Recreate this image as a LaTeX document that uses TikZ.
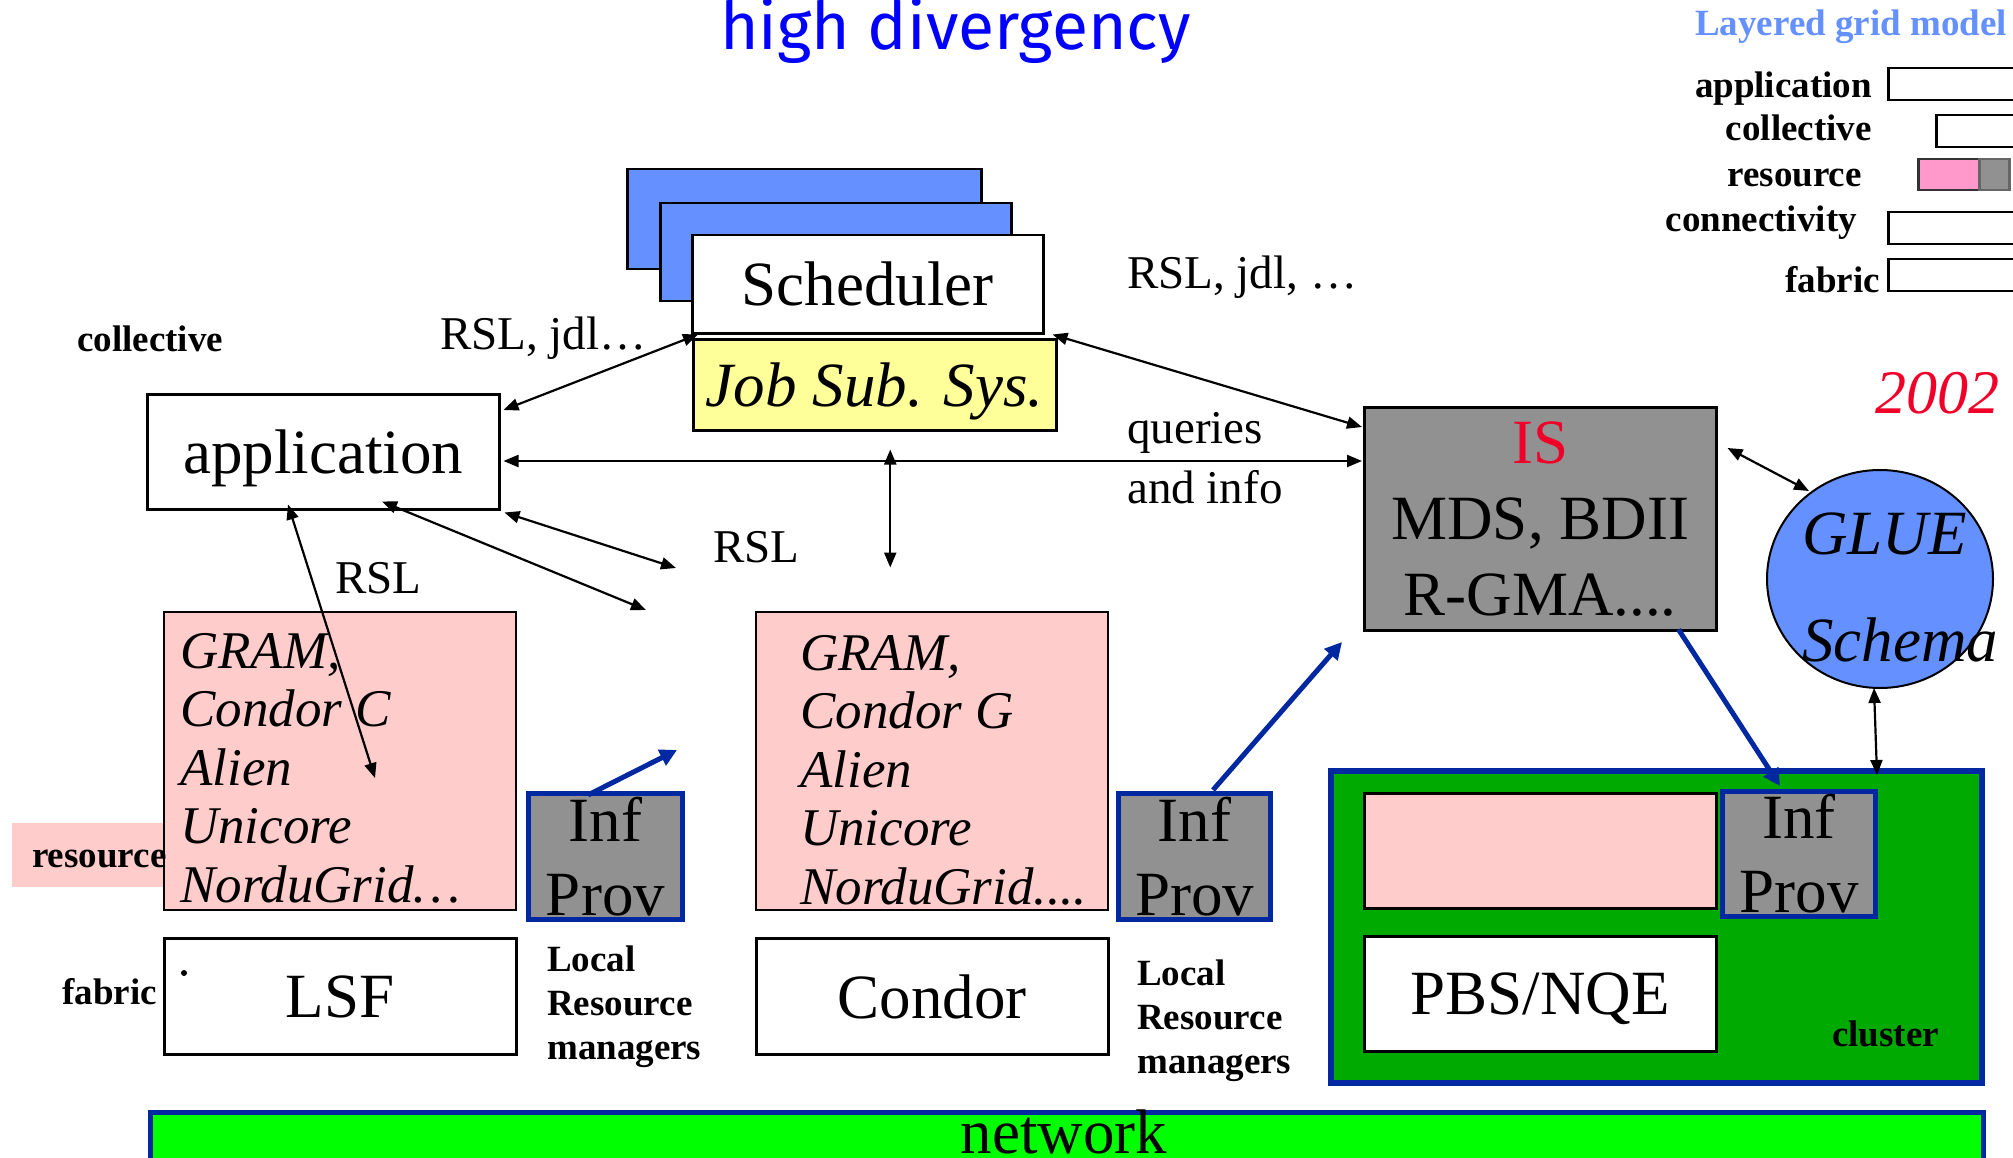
\documentclass[tikz,border=0pt]{standalone}
\usepackage{fontspec}
\setmainfont{Liberation Serif}
\newfontfamily\titlefont{Fira Sans}
\usetikzlibrary{arrows.meta,shapes.geometric,calc}
\definecolor{schedblue}{RGB}{100,145,255}
\definecolor{legblue}{RGB}{100,145,255}
\definecolor{pinkbox}{RGB}{255,204,204}
\definecolor{pinkleg}{RGB}{255,153,204}
\definecolor{isgray}{RGB}{145,145,145}
\definecolor{jobyellow}{RGB}{255,255,153}
\definecolor{darkblue}{RGB}{0,40,160}
\definecolor{clustergreen}{RGB}{0,170,0}
\definecolor{netgreen}{RGB}{0,255,0}
\definecolor{isred}{RGB}{240,0,40}
\definecolor{titleblue}{RGB}{0,0,255}
\newcommand{\myfs}[2]{\fontsize{#1}{#2}\selectfont}
\begin{document}
\begin{tikzpicture}[x=1pt,y=-1pt,
  box/.style={draw=black, line width=2.5pt, inner sep=0pt, anchor=north west},
  infbox/.style={draw=darkblue, fill=isgray, line width=5pt, inner sep=0pt, anchor=north west,
    align=center, font=\myfs{63}{74}},
  big/.style={font=\myfs{63}{70}},
  lbl/.style={anchor=base west, inner sep=0pt, font=\myfs{47}{60}},
  bold/.style={inner sep=0pt, font=\bfseries\myfs{37}{44}},
  listtext/.style={anchor=north west, inner sep=0pt, align=left, font=\itshape\myfs{53}{58.5}},
  arr/.style={line width=2.2pt, {Triangle[length=15pt,width=12pt]}-{Triangle[length=15pt,width=12pt]}},
  bluearr/.style={line width=5pt, draw=darkblue, -{Triangle[length=17pt,width=17pt]}}
]
\useasboundingbox (0,0) rectangle (2013,1158);

% title
\node[anchor=base west, inner sep=0pt, font=\titlefont\myfs{66}{70}, text=titleblue] (title) at (720,50) {high divergency};

% legend
\node[bold, anchor=base west, text=legblue] (legtitle) at (1695,36) {Layered grid model};
\node[bold, anchor=base east] (lapp) at (1872,98) {application};
\node[bold, anchor=base east] (lcol) at (1872,141) {collective};
\node[bold, anchor=base east] (lres) at (1862,187) {resource};
\node[bold, anchor=base east] (lcon) at (1857,232) {connectivity};
\node[bold, anchor=base east] (lfab) at (1880,293) {fabric};
\node[box, fill=white, minimum width=140pt, minimum height=32pt] (lappbox) at (1887,67) {};
\node[box, fill=white, minimum width=100pt, minimum height=32pt] (lcolbox) at (1935,114) {};
\node[box, draw=black!80, fill=pinkleg, minimum width=61pt, minimum height=31pt] (lrespink) at (1917,158) {};
\node[box, draw=black!60, fill=isgray, minimum width=30pt, minimum height=31pt] (lresgray) at (1978,158) {};
\node[box, fill=white, minimum width=140pt, minimum height=32pt] (lconbox) at (1887,211) {};
\node[box, fill=white, minimum width=140pt, minimum height=32pt] (lfabbox) at (1887,258) {};

% scheduler stack
\node[box, fill=schedblue, minimum width=354pt, minimum height=100pt] (back1) at (626,168) {};
\node[box, fill=schedblue, minimum width=351pt, minimum height=98pt] (back2) at (659,202) {};
\node[box, fill=white, minimum width=351pt, minimum height=98pt, big] (sched) at (691,234) {Scheduler};
\node[box, fill=jobyellow, minimum width=363pt, minimum height=91pt, font=\itshape\myfs{63}{70}, text depth=0pt] (job) at (692,338) {Job Sub. Sys.};

% application
\node[box, fill=white, minimum width=352pt, minimum height=115pt, big, text depth=0pt] (app) at (146,393) {application};
\node[bold, anchor=base west] (lcollective) at (77,352) {collective};

% IS
\node[box, fill=isgray, minimum width=352pt, minimum height=223pt, align=center, font=\myfs{63}{76}] (is) at (1363,406) {\textcolor{isred}{IS}\\MDS, BDII\\R-GMA....};
\node[anchor=base west, inner sep=0pt, font=\itshape\myfs{62}{70}, text=isred] (year) at (1875,413) {2002};

% GLUE
\node[draw=black, line width=2pt, fill=schedblue, ellipse, inner sep=0pt, minimum width=226pt, minimum height=218pt] (glue) at (1880,579) {};
\node[anchor=north west, inner sep=0pt, align=left, font=\itshape\myfs{63}{107}] (gluetext) at (1802,513) {GLUE\\Schema};

% labels
\node[lbl] (rsljdl) at (440,349) {RSL, jdl…};
\node[lbl] (rsljdl2) at (1127,289) {RSL, jdl, …};
\node[lbl] (queries) at (1127,443) {queries};
\node[lbl] (andinfo) at (1127,503) {and info};
\node[lbl] (rslmid) at (713,562) {RSL};
\node[lbl] (rslleft) at (335,593) {RSL};

% left resource column
\node[box, line width=2pt, fill=pinkbox, minimum width=352pt, minimum height=298pt] (gram1) at (163,611) {};
\node[listtext] (gram1text) at (180,633) {GRAM,\\Condor C\\Alien\\Unicore\\NorduGrid…};
\node[fill=pinkbox, inner sep=0pt, anchor=north west, minimum width=151pt, minimum height=64pt] (resbg) at (12,823) {};
\node[bold, anchor=base west] (restext) at (32,867) {resource};
\node[infbox, minimum width=154pt, minimum height=126pt] (leftinf) at (526,791) {Inf\\Prov};
\node[box, fill=white, minimum width=352pt, minimum height=116pt, big, text depth=0pt] (lsf) at (163,937) {LSF};
\node[circle, fill=black, inner sep=0pt, minimum size=6pt] (dot) at (184,973) {};
\node[bold, anchor=base west] (fabric) at (62,1004) {fabric};
\node[bold, anchor=north west, align=left] (lrm1) at (547,946) {Local\\Resource\\managers};

% middle resource column
\node[box, line width=2pt, fill=pinkbox, minimum width=352pt, minimum height=298pt] (gram2) at (755,611) {};
\node[listtext] (gram2text) at (800,635) {GRAM,\\Condor G\\Alien\\Unicore\\NorduGrid....};
\node[infbox, minimum width=152pt, minimum height=126pt] (midinf) at (1116,791) {Inf\\Prov};
\node[box, fill=white, minimum width=352pt, minimum height=116pt, big, text depth=0pt] (condor) at (755,937) {Condor};
\node[bold, anchor=north west, align=left] (lrm2) at (1137,960) {Local\\Resource\\managers};

% cluster
\node[box, draw=darkblue, line width=6pt, fill=clustergreen, minimum width=651pt, minimum height=312pt] (cluster) at (1328,768) {};
\node[box, fill=pinkbox, minimum width=352pt, minimum height=115pt] (cpink) at (1363,792) {};
\node[infbox, minimum width=153pt, minimum height=125pt] (clusterinf) at (1720,789) {Inf\\Prov};
\node[box, fill=white, minimum width=352pt, minimum height=115pt, big, text depth=0pt] (pbs) at (1363,935) {PBS/NQE};
\node[bold, anchor=base west] (clusterlbl) at (1832,1046) {cluster};

% network
\node[box, draw=darkblue, line width=5pt, fill=netgreen, minimum width=1833pt, minimum height=48pt] (net) at (148,1110) {};
\node[anchor=base, inner sep=0pt, big] (nettext) at (1064,1153) {network};

% free ends
\coordinate (e5) at (676,568);
\coordinate (e6) at (646,610);
\coordinate (e7) at (375,778);
\coordinate (e10) at (677,750);
\coordinate (e11) at (1342,642);

% black arrows
\draw[arr] ($(sched.south west)+(7,0)$) -- ($(app.north east)+(3,17)$);
\draw[arr] ($(sched.south east)+(8,0)$) -- ($(is.north west)+(-1,21)$);
\draw[arr] ($(app.north east)+(3,68)$) -- ($(is.north west)+(-1,55)$);
\draw[arr] ($(job.south)+(15.5,18)$) -- ($(job.south)+(15.5,136)$);
\draw[arr] ($(app.south east)+(4,2)$) -- (e5);
\draw[arr] ($(app.south west)+(236,-9)$) -- (e6);
\draw[arr] ($(app.south west)+(142,-6)$) -- (e7);
\draw[arr] ($(is.north east)+(10,42)$) -- ($(glue.center)+(-71,-88)$);
\draw[arr] ($(glue.south)+(-6,-1)$) -- ($(cluster.north)+(220.5,7)$);

% blue arrows
\draw[bluearr] ($(leftinf.north west)+(62,4)$) -- (e10);
\draw[bluearr] ($(midinf.north west)+(97,-1)$) -- (e11);
\draw[bluearr] ($(is.south east)+(-39,-2)$) -- ($(clusterinf.north west)+(60,-3)$);
\end{tikzpicture}
\end{document}
